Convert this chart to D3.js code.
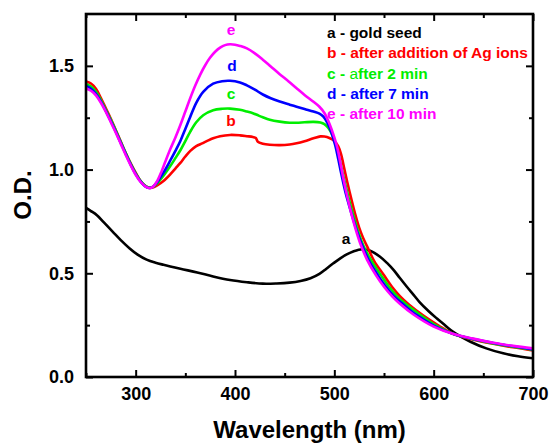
<!DOCTYPE html>
<html>
<head>
<meta charset="utf-8">
<script src="https://cdn.jsdelivr.net/npm/d3@7"></script>
<style>
  body { margin: 0; background: #fff; }
  svg { display: block; font-family: "Liberation Sans", Arial, Helvetica, sans-serif; font-weight: bold; }
</style>
</head>
<body>
<div id="main"></div>
<script>
// spectra, [wavelength nm, O.D.]
var seedA = [[250,0.815],[255,0.8],[261,0.78],[268,0.745],[277,0.7],[285,0.66],[294,0.62],[302,0.59],[311,0.566],
  [320,0.551],[328,0.541],[345,0.522],[362,0.504],[378,0.485],[395,0.468],[412,0.457],[428,0.45],[442,0.451],
  [455,0.455],[466,0.463],[476,0.476],[485,0.497],[492,0.522],[499,0.548],[506,0.572],[513,0.592],[519,0.605],
  [528,0.616],[536,0.609],[546,0.58],[553,0.55],[560,0.514],[566,0.477],[573,0.435],[580,0.395],[586,0.36],
  [595,0.317],[603,0.283],[610,0.255],[620,0.216],[637,0.17],[653,0.138],[670,0.114],[685,0.1],[700,0.09]];

var agB = [[250,1.425],[255,1.415],[260,1.39],[265,1.345],[270,1.295],[275,1.245],[280,1.19],[285,1.135],[290,1.08],
  [295,1.03],[300,0.985],[305,0.945],[310,0.92],[314,0.912],[318,0.915],[322,0.925],[328,0.945],[335,0.978],
  [340,1.005],[345,1.032],[350,1.063],[355,1.09],[361,1.113],[367,1.126],[369,1.131],[372,1.138],[378,1.151],
  [385,1.161],[395,1.167],[405,1.165],[412,1.161],[418,1.157],[421,1.152],[423,1.134],[428,1.125],[435,1.12],
  [445,1.118],[455,1.121],[462,1.127],[470,1.137],[479,1.151],[486,1.16],[490,1.159],[495,1.152],[500,1.138],
  [504,1.112],[507,1.07],[510,1.005],[513,0.94],[517,0.86],[521,0.785],[525,0.72],[529,0.67],[533,0.63],
  [540,0.56],[550,0.49],[558,0.435],[566,0.39],[575,0.35],[590,0.295],[605,0.248],[620,0.207],[640,0.18],
  [660,0.16],[680,0.143],[700,0.128]];

var min2C = [[250,1.413],[255,1.4],[260,1.375],[265,1.335],[270,1.288],[275,1.24],[280,1.188],[285,1.133],[290,1.08],
  [295,1.028],[300,0.982],[305,0.945],[310,0.92],[314,0.912],[318,0.918],[322,0.935],[328,0.97],[335,1.018],
  [340,1.055],[345,1.093],[350,1.137],[355,1.183],[361,1.228],[368,1.262],[378,1.286],[387,1.293],[395,1.294],
  [405,1.288],[412,1.28],[418,1.272],[422,1.264],[428,1.252],[435,1.24],[445,1.231],[455,1.226],[462,1.226],
  [470,1.228],[479,1.23],[486,1.227],[490,1.219],[494,1.2],[498,1.166],[502,1.11],[505,1.055],[508,0.99],
  [512,0.91],[515,0.85],[519,0.78],[523,0.715],[527,0.66],[531,0.615],[538,0.555],[547,0.49],[555,0.435],
  [563,0.39],[572,0.352],[585,0.305],[600,0.255],[620,0.207],[640,0.182],[660,0.162],[680,0.146],[700,0.131]];

var min7D = [[250,1.403],[255,1.39],[260,1.365],[265,1.328],[270,1.282],[275,1.233],[280,1.182],[285,1.128],[290,1.075],
  [295,1.024],[300,0.978],[305,0.942],[310,0.918],[314,0.911],[318,0.92],[322,0.942],[328,0.985],[335,1.045],
  [340,1.09],[345,1.138],[350,1.196],[355,1.255],[361,1.322],[368,1.375],[378,1.414],[387,1.426],[395,1.428],
  [405,1.42],[412,1.406],[420,1.385],[428,1.362],[436,1.344],[445,1.328],[455,1.313],[462,1.303],[470,1.292],
  [479,1.28],[485,1.27],[489,1.255],[493,1.225],[497,1.18],[501,1.115],[504,1.05],[507,0.98],[511,0.895],
  [515,0.825],[519,0.76],[523,0.7],[528,0.635],[535,0.56],[544,0.49],[552,0.435],[560,0.39],[569,0.352],
  [582,0.302],[600,0.248],[620,0.207],[640,0.183],[660,0.164],[680,0.148],[700,0.133]];

var min10E = [[250,1.392],[255,1.38],[260,1.358],[265,1.322],[270,1.278],[275,1.228],[280,1.178],[285,1.124],[290,1.07],
  [295,1.02],[300,0.975],[305,0.94],[310,0.918],[314,0.91],[318,0.92],[322,0.948],[326,0.99],[330,1.04],
  [335,1.1],[340,1.155],[345,1.215],[350,1.28],[355,1.345],[360,1.405],[365,1.458],[370,1.503],[375,1.54],
  [380,1.568],[385,1.588],[390,1.6],[395,1.604],[400,1.602],[405,1.596],[412,1.584],[420,1.56],[428,1.53],
  [436,1.497],[445,1.46],[454,1.425],[462,1.392],[470,1.36],[479,1.327],[485,1.303],[490,1.273],[495,1.222],
  [500,1.155],[503,1.105],[506,1.035],[509,0.96],[513,0.87],[517,0.79],[521,0.72],[526,0.645],[533,0.565],
  [542,0.49],[550,0.435],[558,0.39],[566,0.353],[580,0.3],[600,0.243],[620,0.207],[640,0.185],[660,0.165],
  [680,0.15],[700,0.138]];

var seriesNames = ["a", "b", "c", "d", "e"];
var seriesData = [seedA, agB, min2C, min7D, min10E];
var seriesColors = ["#000000", "#ff0000", "#00ee00", "#0000ff", "#ff00ff"];
var legendTexts = ["a - gold seed", "b - after addition of Ag ions", "c - after 2 min", "d - after 7 min", "e - after 10 min"];
// curve letters, anchored at [wavelength, O.D.]
var letterAt = [[536, 0.616], [396, 1.167], [396, 1.294], [397, 1.428], [396, 1.604]];

var xMajor = [300, 400, 500, 600, 700];
var xMinor = [250, 350, 450, 550, 650];
var yMajor = [0, 0.5, 1.0, 1.5];
var yMinor = [0.25, 0.75, 1.25];

var W = 551, H = 444;
var plotL = 86, plotR = 533, plotT = 14, plotB = 377;

var x = d3.scaleLinear().domain([250, 700]).range([plotL, plotR]);
var y = d3.scaleLinear().domain([0, 1.75]).range([plotB, plotT]);

var svg = d3.select("#main").append("svg")
  .attr("width", W)
  .attr("height", H);

// curves
var line = d3.line()
  .x(function(d) { return x(d[0]); })
  .y(function(d) { return y(d[1]); })
  .curve(d3.curveCatmullRom.alpha(0.5));

svg.append("defs").append("clipPath").attr("id", "clip")
  .append("rect").attr("x", plotL).attr("y", plotT).attr("width", plotR - plotL).attr("height", plotB - plotT);

svg.append("g").attr("clip-path", "url(#clip)")
  .selectAll("path")
  .data(seriesData)
  .enter().append("path")
  .attr("d", line)
  .attr("fill", "none")
  .attr("stroke", function(d, i) { return seriesColors[i]; })
  .attr("stroke-width", 2.6)
  .attr("stroke-linejoin", "round");

// axes, ticks point inward on all four sides
function styleAxis(g) {
  g.select(".domain").remove();
  g.selectAll(".tick line").attr("stroke", "#000").attr("stroke-width", 2);
  g.selectAll(".tick text").attr("fill", "#000").style("font-size", "18px").style("font-weight", "bold");
}

svg.append("g").attr("transform", "translate(0," + plotB + ")")
  .call(d3.axisBottom(x).tickValues(xMajor).tickSizeInner(-7).tickSizeOuter(0).tickPadding(10).tickFormat(d3.format("d")))
  .call(styleAxis);
svg.append("g").attr("transform", "translate(0," + plotB + ")")
  .call(d3.axisBottom(x).tickValues(xMinor).tickSizeInner(-4).tickSizeOuter(0).tickFormat(""))
  .call(styleAxis);
svg.append("g").attr("transform", "translate(0," + plotT + ")")
  .call(d3.axisTop(x).tickValues(xMajor).tickSizeInner(-7).tickSizeOuter(0).tickFormat(""))
  .call(styleAxis);
svg.append("g").attr("transform", "translate(0," + plotT + ")")
  .call(d3.axisTop(x).tickValues(xMinor).tickSizeInner(-4).tickSizeOuter(0).tickFormat(""))
  .call(styleAxis);

svg.append("g").attr("transform", "translate(" + plotL + ",0)")
  .call(d3.axisLeft(y).tickValues(yMajor).tickSizeInner(-7).tickSizeOuter(0).tickPadding(12).tickFormat(d3.format(".1f")))
  .call(styleAxis);
svg.append("g").attr("transform", "translate(" + plotL + ",0)")
  .call(d3.axisLeft(y).tickValues(yMinor).tickSizeInner(-4).tickSizeOuter(0).tickFormat(""))
  .call(styleAxis);
svg.append("g").attr("transform", "translate(" + plotR + ",0)")
  .call(d3.axisRight(y).tickValues(yMajor).tickSizeInner(-7).tickSizeOuter(0).tickFormat(""))
  .call(styleAxis);
svg.append("g").attr("transform", "translate(" + plotR + ",0)")
  .call(d3.axisRight(y).tickValues(yMinor).tickSizeInner(-4).tickSizeOuter(0).tickFormat(""))
  .call(styleAxis);

// frame
svg.append("rect")
  .attr("x", plotL).attr("y", plotT)
  .attr("width", plotR - plotL).attr("height", plotB - plotT)
  .attr("fill", "none").attr("stroke", "#000").attr("stroke-width", 2.6);

// axis titles
svg.append("text")
  .attr("x", (plotL + plotR) / 2).attr("y", 438)
  .attr("text-anchor", "middle")
  .style("font-size", "24px")
  .text("Wavelength (nm)");

svg.append("text")
  .attr("transform", "translate(31," + 195 + ") rotate(-90)")
  .attr("text-anchor", "middle")
  .style("font-size", "24px")
  .text("O.D.");

// curve letters
svg.selectAll(".letter")
  .data(letterAt)
  .enter().append("text")
  .attr("class", "letter")
  .attr("x", function(d, i) { return x(d[0]) + (i == 0 ? -24 : 0); })
  .attr("y", function(d, i) { return y(d[1]) - (i == 0 ? 5 : 4); })
  .attr("dy", function(d, i) { return i == 0 ? "0" : "-0.35em"; })
  .attr("text-anchor", "middle")
  .attr("fill", function(d, i) { return seriesColors[i]; })
  .style("font-size", "15.5px")
  .text(function(d, i) { return seriesNames[i]; });

// legend
var legend = svg.append("g");
legendTexts.forEach(function(t, i) {
  var tx = legend.append("text")
    .attr("x", 327)
    .attr("y", 38 + i * 20.3)
    .attr("fill", seriesColors[i])
    .style("font-size", "15.5px");
  if (i == 2) {
    // the "a" of "after" is not bold in this entry
    tx.append("tspan").text("c - ");
    tx.append("tspan").style("font-weight", "normal").text("a");
    tx.append("tspan").text("fter 2 min");
  } else {
    tx.text(t);
  }
});
</script>
</body>
</html>
